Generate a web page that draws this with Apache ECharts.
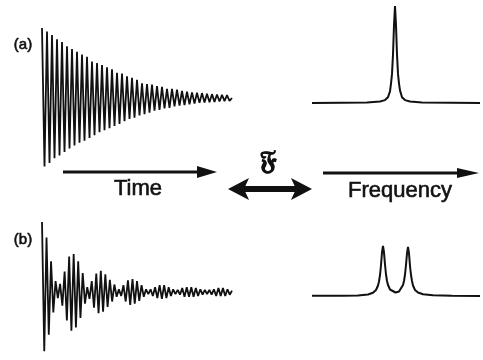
<!DOCTYPE html>
<html>
<head>
<meta charset="utf-8">
<script src="https://cdn.jsdelivr.net/npm/echarts@6/dist/echarts.min.js"></script>
<style>
  html, body { margin: 0; padding: 0; background: #fff; }
  #chart { width: 483px; height: 360px; }
</style>
</head>
<body>
<div id="chart"></div>
<script>
// (a) single line: free induction decay, one value per half cycle (peak heights)
let fidA = [1.00, -0.98, 0.95, -0.93, 0.90, -0.86, 0.84, -0.82, 0.80, -0.77,
  0.74, -0.72, 0.70, -0.68, 0.66, -0.64, 0.62, -0.61, 0.59, -0.57,
  0.52, -0.53, 0.50, -0.49, 0.47, -0.46, 0.44, -0.43, 0.41, -0.40,
  0.36, -0.37, 0.35, -0.33, 0.31, -0.30, 0.29, -0.28, 0.26, -0.25,
  0.21, -0.23, 0.20, -0.21, 0.19, -0.18, 0.17, -0.17, 0.16, -0.15,
  0.13, -0.14, 0.13, -0.12, 0.12, -0.11, 0.10, -0.10, 0.09, -0.09,
  0.08, -0.08, 0.075, -0.07, 0.07, -0.065, 0.06, -0.06, 0.055, -0.055,
  0.05, -0.05, 0.045, -0.045, 0.04, -0.04, 0.0];

// (b) two lines: beating decay
let fidB = [1.03, -0.87, 0.80, -0.63, 0.45, -0.30, 0.16, -0.09, 0.12, -0.20,
  0.30, -0.42, 0.52, -0.57, 0.56, -0.52, 0.45, -0.38, 0.28, -0.17,
  0.07, -0.10, 0.16, -0.23, 0.27, -0.31, 0.31, -0.29, 0.26, -0.22,
  0.18, -0.14, 0.11, -0.07, 0.04, -0.06, 0.10, -0.14, 0.17, -0.19,
  0.19, -0.17, 0.16, -0.13, 0.10, -0.07, 0.04, -0.03, 0.04, -0.06,
  0.07, -0.09, 0.10, -0.10, 0.10, -0.09, 0.07, -0.06, 0.04, -0.03,
  0.03, -0.04, 0.06, -0.07, 0.07, -0.07, 0.07, -0.07, 0.06, -0.06,
  0.04, -0.04, 0.03, -0.03, 0.03, -0.04, 0.04, -0.06, 0.06, -0.06,
  0.06, -0.06, 0.04, -0.04, 0.02];

// spectra (frequency, intensity)
let freqA = [0, 30, 55, 68, 73, 76, 78, 79, 80, 81, 82, 83, 84, 85, 86, 87, 88, 90, 93, 98, 110, 140, 168];
let ampA = [0.0, 0.003, 0.006, 0.015, 0.03, 0.06, 0.12, 0.2, 0.3, 0.5, 0.8, 1.0, 0.8, 0.5, 0.3, 0.2, 0.13, 0.06, 0.03, 0.015, 0.006, 0.003, 0.0];

let freqB = [0, 30, 46, 56, 61, 64, 66, 67, 68, 68.5, 69, 70, 71, 72, 73, 74, 75, 76, 78, 80,
  83.5, 87, 89, 91, 92, 93, 94, 95, 96, 97, 98, 99, 100, 101, 103, 106, 111, 121, 140, 168];
let ampB = [0.003, 0.006, 0.012, 0.03, 0.065, 0.12, 0.21, 0.29, 0.42, 0.51, 0.62, 0.87, 1.0, 0.87, 0.63, 0.43, 0.30, 0.22, 0.13, 0.09,
  0.07, 0.09, 0.13, 0.22, 0.30, 0.43, 0.62, 0.85, 0.98, 0.85, 0.60, 0.42, 0.30, 0.21, 0.12, 0.07, 0.035, 0.013, 0.005, 0.002];

let ink = "#111";
let labelFont = "Liberation Sans, Arial, sans-serif";

function zip(xs, ys) {
  return xs.map((x, i) => [x, ys[i]]);
}

function hiddenAxis(idx, min, max) {
  return { gridIndex: idx, type: "value", min: min, max: max, show: false };
}

// scanned lettering looks a touch heavier than regular, so add a thin outline
function label(text, x, y, size) {
  return {
    type: "text", x: x, y: y,
    style: {
      text: text, fill: ink, stroke: ink, lineWidth: 0.6,
      font: size + "px " + labelFont, align: "center", verticalAlign: "middle"
    }
  };
}

let chart = echarts.init(document.getElementById("chart"), null, { renderer: "canvas" });

let option = {
  backgroundColor: "#fff",
  animation: false,
  grid: [
    { left: 42, top: 28, width: 190, height: 140 },  // fid a
    { left: 312, top: 6, width: 168, height: 97 },   // spectrum a
    { left: 42, top: 224, width: 190, height: 140 }, // fid b
    { left: 312, top: 246, width: 168, height: 50 }  // spectrum b
  ],
  xAxis: [
    hiddenAxis(0, 0, fidA.length - 1),
    hiddenAxis(1, 0, 168),
    hiddenAxis(2, 0, fidB.length - 1),
    hiddenAxis(3, 0, 168)
  ],
  yAxis: [
    hiddenAxis(0, -1, 1),
    hiddenAxis(1, 0, 1),
    hiddenAxis(2, -1, 1),
    hiddenAxis(3, 0, 1)
  ],
  series: [
    {
      type: "line", xAxisIndex: 0, yAxisIndex: 0, clip: false, showSymbol: false,
      lineStyle: { color: ink, width: 1.8 },
      data: fidA.map((v, i) => [i, v])
    },
    {
      type: "line", xAxisIndex: 1, yAxisIndex: 1, clip: false, showSymbol: false,
      lineStyle: { color: ink, width: 2 },
      data: zip(freqA, ampA)
    },
    {
      type: "line", xAxisIndex: 2, yAxisIndex: 2, clip: false, showSymbol: false,
      lineStyle: { color: ink, width: 1.8 },
      data: fidB.map((v, i) => [i, v])
    },
    {
      type: "line", xAxisIndex: 3, yAxisIndex: 3, clip: false, showSymbol: false,
      lineStyle: { color: ink, width: 2 },
      data: zip(freqB, ampB)
    }
  ],
  graphic: [
    // panel labels
    label("(a)", 23, 45, 15),
    label("(b)", 23, 240, 15),
    // time arrow
    { type: "line", shape: { x1: 63, y1: 172, x2: 202, y2: 172 }, style: { stroke: ink, lineWidth: 3 } },
    { type: "polygon", shape: { points: [[197, 166], [217, 172], [197, 178]] }, style: { fill: ink } },
    label("Time", 138, 189, 22),
    // frequency arrow
    { type: "line", shape: { x1: 323, y1: 173, x2: 462, y2: 173 }, style: { stroke: ink, lineWidth: 3 } },
    { type: "polygon", shape: { points: [[457, 168], [479, 173], [457, 178]] }, style: { fill: ink } },
    label("Frequency", 400, 191, 22),
    // fourier transform double arrow
    { type: "line", shape: { x1: 242, y1: 189, x2: 298, y2: 189 }, style: { stroke: ink, lineWidth: 6 } },
    { type: "polygon", shape: { points: [[228, 189], [249, 178], [244, 189], [249, 200]] }, style: { fill: ink } },
    { type: "polygon", shape: { points: [[312, 189], [291, 178], [296, 189], [291, 200]] }, style: { fill: ink } },
    { type: "text", x: 268, y: 162, style: { text: "𝔉", fill: ink, stroke: ink, lineWidth: 0.8, font: "bold 26px DejaVu Serif, serif", align: "center", verticalAlign: "middle" } }
  ]
};

chart.setOption(option);
</script>
</body>
</html>
